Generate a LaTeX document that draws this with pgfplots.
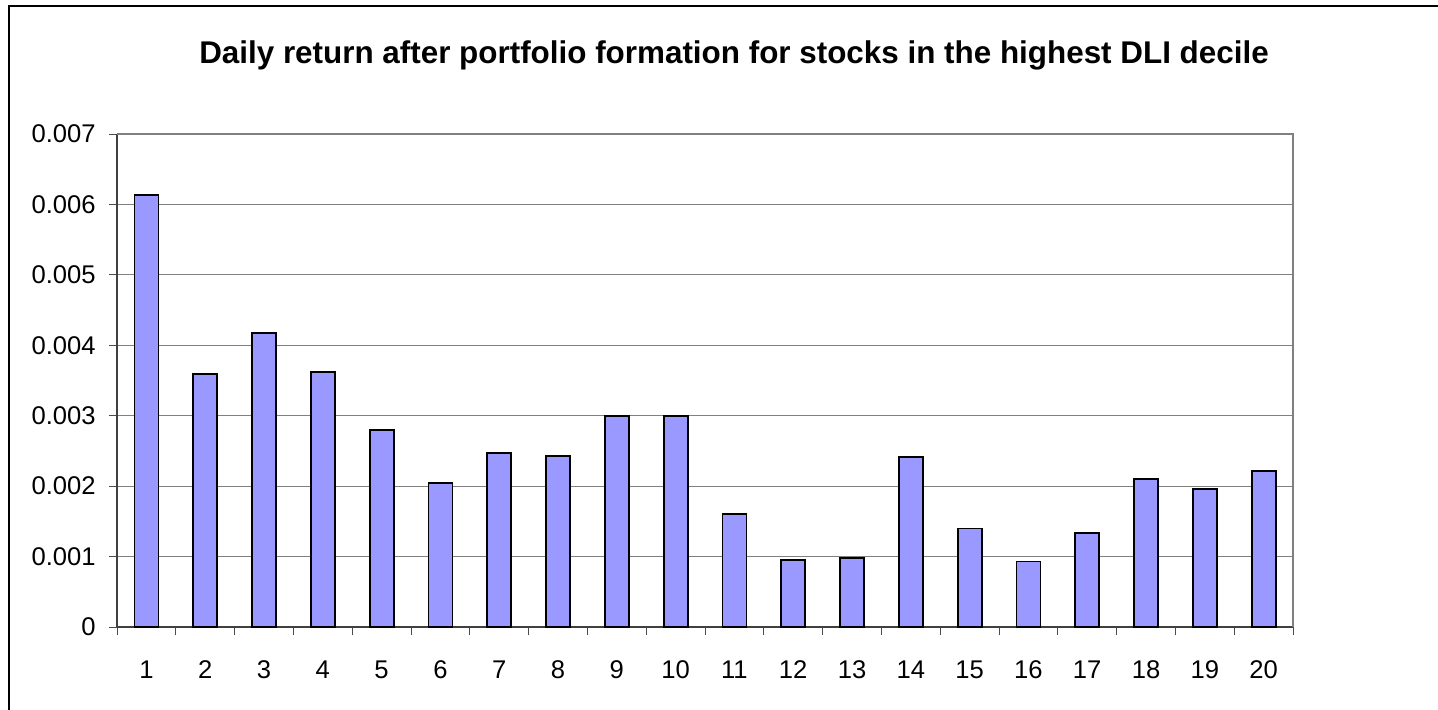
\documentclass[border=0pt]{standalone}
\usepackage{pgfplots}
\pgfplotsset{compat=1.18}
\usepackage{fontspec}
\setmainfont{Liberation Sans}
\definecolor{barfill}{HTML}{9999FF}
\definecolor{gridgray}{HTML}{808080}
\begin{document}
\begin{tikzpicture}
\useasboundingbox (0,0) rectangle (719bp,355bp);
\begin{scope}
\clip (0,0) rectangle (719bp,355bp);
\draw[line width=1.2bp] (4.5bp,-5bp) -- (4.5bp,352bp) -- (730bp,352bp);
\end{scope}
\node[font=\fontsize{15.7bp}{18bp}\selectfont\bfseries, anchor=base, inner sep=0pt] at (367bp,323bp) {Daily return after portfolio formation for stocks in the highest DLI decile};
\begin{axis}[
  at={(58.5bp,41.5bp)}, anchor=south west,
  scale only axis, width=588bp, height=246.5bp,
  xmin=0.5, xmax=20.5, ymin=0, ymax=0.007,
  axis lines=left, axis line style={-, line width=0.6bp, draw=black!75},
  xtick={1,...,20},
  xticklabels={1,2,3,4,5,6,7,8,9,10,11,12,13,14,15,16,17,18,19,20},
  minor xtick={0.5,1.5,...,20.5},
  ytick={0,0.001,0.002,0.003,0.004,0.005,0.006,0.007},
  yticklabels={0,0.001,0.002,0.003,0.004,0.005,0.006,0.007},
  tick align=outside,
  major tick length=4bp, minor tick length=4bp,
  x tick style={draw=none},
  minor x tick style={draw=black!70, line width=0.5bp},
  y tick style={draw=black!70, line width=0.5bp},
  ymajorgrids, major grid style={draw=gridgray, line width=0.5bp},
  tick label style={font=\fontsize{12.8bp}{15bp}\selectfont},
  xticklabel style={anchor=base, yshift=-21.5bp},
  yticklabel style={anchor=east, inner sep=0pt, xshift=-6.5bp},
  scaled y ticks=false,
  clip=false,
]
\addplot[ybar, bar width=12bp, fill=barfill, draw=black, line width=0.9bp] coordinates {
(1,0.00613) (2,0.00359) (3,0.00417) (4,0.00362) (5,0.00280)
(6,0.00205) (7,0.00247) (8,0.00243) (9,0.00300) (10,0.00300)
(11,0.00160) (12,0.00095) (13,0.00098) (14,0.00241) (15,0.00140)
(16,0.00093) (17,0.00134) (18,0.00210) (19,0.00196) (20,0.00222)
};
\draw[draw=gridgray, line width=0.8bp] (rel axis cs:0,1) -- (rel axis cs:1,1) -- (rel axis cs:1,0);
\end{axis}
\end{tikzpicture}
\end{document}
